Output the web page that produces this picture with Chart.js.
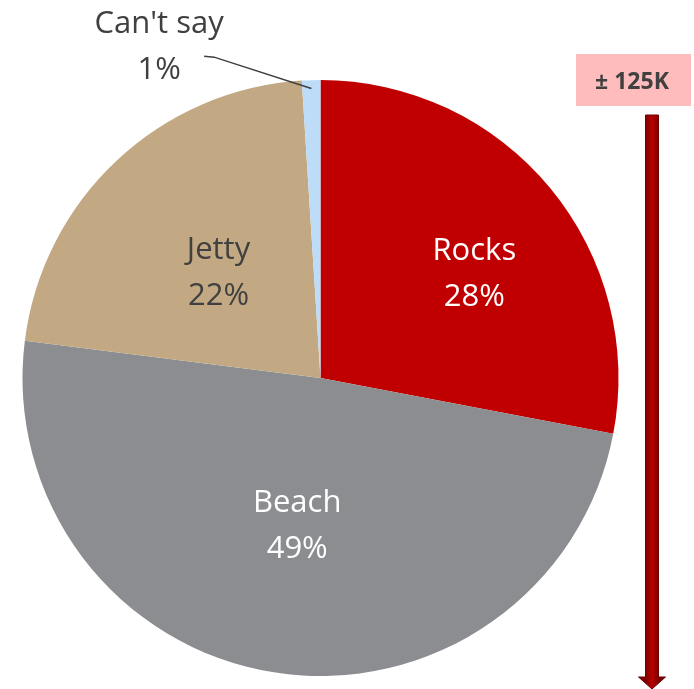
<!DOCTYPE html>
<html>
<head>
<meta charset="utf-8">
<script src="https://cdn.jsdelivr.net/npm/chart.js@4.4.1/dist/chart.umd.min.js"></script>
<style>
html,body{margin:0;padding:0;background:#fff;}
#c{display:block;}
</style>
</head>
<body>
<canvas id="c" width="694" height="689"></canvas>
<script>
// ---- data ----
const categories = ["Rocks", "Beach", "Jetty", "Can't say"];
const shares = [28, 49, 22, 1];
const sliceColors = ["#C00000", "#8C8D91", "#C2A984", "#BDDCF8"];
const labelColors = ["#FFFFFF", "#FFFFFF", "#404040", "#404040"];
const arrowNote = "\u00B1 125K";

// ---- label layout (radius fraction + pixel nudge) ----
const labelRadiusFrac = [0.5, 0.5, 0.5, null];
const labelNudge = [[39, -11], [0, -1], [0, 2], [-152, -35]];

const FONT = "'Open Sans', Lato, sans-serif";

const overlay = {
  id: 'overlay',
  afterDraw(chart) {
    const ctx = chart.ctx;
    const meta = chart.getDatasetMeta(0);
    ctx.save();
    meta.data.forEach((arc, i) => {
      const mid = (arc.startAngle + arc.endAngle) / 2;
      let cx, cy;
      if (labelRadiusFrac[i] !== null) {
        const r = arc.outerRadius * labelRadiusFrac[i];
        cx = arc.x + Math.cos(mid) * r + labelNudge[i][0];
        cy = arc.y + Math.sin(mid) * r + labelNudge[i][1];
      } else {
        const ox = arc.x + Math.cos(mid) * arc.outerRadius;
        const oy = arc.y + Math.sin(mid) * arc.outerRadius;
        cx = ox + labelNudge[i][0];
        cy = oy + labelNudge[i][1];
        const ex = arc.x + Math.cos(mid) * arc.outerRadius * 0.972;
        const ey = arc.y + Math.sin(mid) * arc.outerRadius * 0.972;
        ctx.strokeStyle = "#404040";
        ctx.lineWidth = 1.5;
        ctx.beginPath();
        ctx.moveTo(cx + 45, cy + 11);
        ctx.lineTo(cx + 55, cy + 12);
        ctx.lineTo(ex, ey);
        ctx.stroke();
      }
      ctx.fillStyle = labelColors[i];
      ctx.font = "31px " + FONT;
      ctx.textAlign = "center";
      ctx.textBaseline = "alphabetic";
      ctx.fillText(categories[i], cx, cy - 12);
      ctx.fillText(shares[i] + "%", cx, cy + 34);
    });

    // note box
    ctx.fillStyle = "#FFBCBC";
    ctx.fillRect(576, 54, 115, 52);
    ctx.fillStyle = "#404040";
    ctx.font = "bold 23px " + FONT;
    ctx.textAlign = "center";
    ctx.textBaseline = "alphabetic";
    ctx.fillText(arrowNote, 632, 89);

    // arrow
    const ax = 652, top = 115, headTop = 677, tip = 689;
    const g = ctx.createLinearGradient(ax - 7, 0, ax + 7, 0);
    g.addColorStop(0, "#7A0000");
    g.addColorStop(0.5, "#B80000");
    g.addColorStop(1, "#7A0000");
    ctx.fillStyle = g;
    ctx.strokeStyle = "#6E0000";
    ctx.lineWidth = 1;
    ctx.beginPath();
    ctx.moveTo(ax - 6.5, top);
    ctx.lineTo(ax + 6.5, top);
    ctx.lineTo(ax + 6.5, headTop);
    ctx.lineTo(ax + 13.5, headTop);
    ctx.lineTo(ax, tip);
    ctx.lineTo(ax - 13.5, headTop);
    ctx.lineTo(ax - 6.5, headTop);
    ctx.closePath();
    ctx.fill();
    ctx.stroke();
    ctx.restore();
  }
};

new Chart(document.getElementById('c'), {
  type: 'pie',
  data: {
    labels: categories,
    datasets: [{
      data: shares,
      backgroundColor: sliceColors,
      borderWidth: 0,
      hoverOffset: 0,
      offset: 0
    }]
  },
  options: {
    responsive: false,
    animation: false,
    layout: { padding: { left: 22.5, right: 75.5, top: 80, bottom: 13 } },
    plugins: { legend: { display: false }, tooltip: { enabled: false } }
  },
  plugins: [overlay]
});
</script>
</body>
</html>
